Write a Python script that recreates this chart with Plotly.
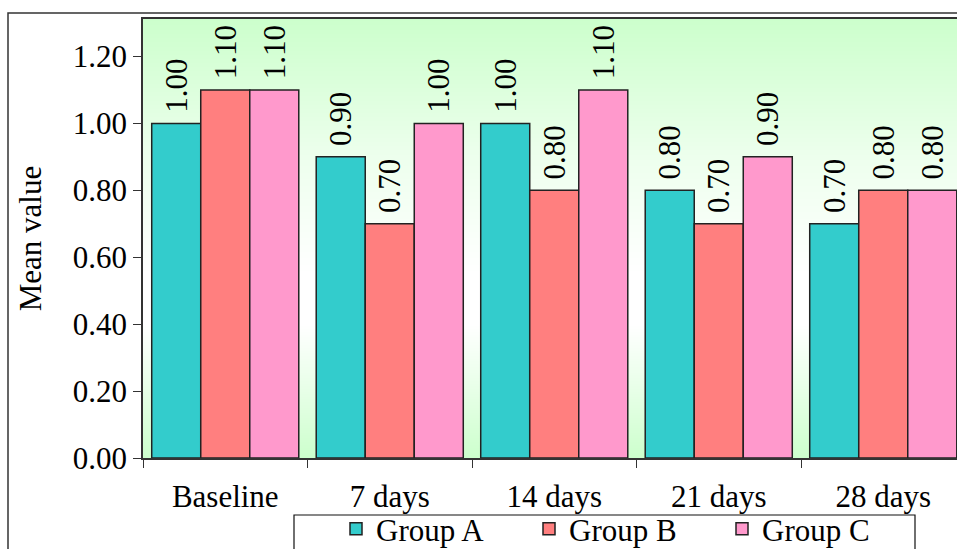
import numpy as np
import plotly.graph_objects as go

# Mean values per group at each time point
categories = ["Baseline", "7 days", "14 days", "21 days", "28 days"]
group_a = [1.00, 0.90, 1.00, 0.80, 0.70]
group_b = [1.10, 0.70, 0.80, 0.70, 0.80]
group_c = [1.10, 1.00, 1.10, 0.90, 0.80]
series_names = ["Group A", "Group B", "Group C"]
series_colors = ["#33CCCC", "#FF7F7F", "#FF99CC"]

FONT = "Liberation Serif"
FS = 31
W, H = 957, 549
ML, MR, MT, MB = 143, 0, 19, 91
plot_w = W - ML - MR
plot_h = H - MT - MB
cat_px = 164.5          # width of one category slot
y_top = 1.312

fig = go.Figure()

# Plot-area wash: green at top and bottom, fading to white in the middle
grad_y = np.linspace(0, y_top, 60)
grad_z = np.interp(grad_y, [0, 0.15, 0.4, 0.55, 0.9, y_top], [1, 0.6, 0, 0, 0.35, 1])
fig.add_trace(go.Heatmap(
    x=categories, y=grad_y,
    z=np.repeat(grad_z[:, None], len(categories), axis=1),
    colorscale=[[0, "#FFFFFF"], [1, "#CCFFCC"]], zmin=0, zmax=1,
    zsmooth="best", showscale=False, hoverinfo="skip",
))

for name, vals, col in zip(series_names, [group_a, group_b, group_c], series_colors):
    fig.add_trace(go.Bar(
        name=name, x=categories, y=vals,
        marker=dict(color=col, line=dict(color="#222222", width=1.5)),
        texttemplate="\u00a0%{y:.2f}", textposition="outside", textangle=-90,
        textfont=dict(family=FONT, size=FS, color="#000000"),
        constraintext="none", cliponaxis=False,
    ))

def px_x(p):
    return (p - ML) / plot_w

def px_y(p):
    return (H - MB - p) / plot_h

# Outer chart frame and legend frame
fig.add_shape(type="rect", xref="paper", yref="paper",
              x0=px_x(8), x1=px_x(975), y0=px_y(13), y1=px_y(570),
              line=dict(color="#333333", width=1.5), fillcolor="rgba(0,0,0,0)", layer="below")
fig.add_shape(type="rect", xref="paper", yref="paper",
              x0=px_x(294), x1=px_x(915), y0=px_y(515), y1=px_y(570),
              line=dict(color="#111111", width=1.2), fillcolor="rgba(0,0,0,0)")

fig.update_layout(
    width=W, height=H,
    margin=dict(l=ML, r=MR, t=MT, b=MB, autoexpand=False),
    paper_bgcolor="#FFFFFF", plot_bgcolor="#FFFFFF",
    barmode="group", bargap=0.106, bargroupgap=0,
    font=dict(family=FONT, size=FS, color="#000000"),
    showlegend=True,
    legend=dict(orientation="h", x=px_x(336), xanchor="left", y=px_y(502), yanchor="top",
                bgcolor="rgba(0,0,0,0)", borderwidth=0,
                font=dict(family=FONT, size=FS, color="#000000"),
                entrywidth=148, entrywidthmode="pixels", tracegroupgap=0),
    xaxis=dict(
        type="category", range=[-0.5, -0.5 + plot_w / cat_px],
        showline=True, linecolor="#333333", linewidth=1.5, mirror=True,
        ticks="outside", tickson="boundaries", ticklen=8, tickcolor="#333333",
        ticklabelstandoff=10,
        tickfont=dict(family=FONT, size=FS), showgrid=False, zeroline=False,
    ),
    yaxis=dict(
        range=[0, y_top], dtick=0.2, tickformat=".2f",
        showline=True, linecolor="#333333", linewidth=1.5,
        ticks="outside", ticklen=8, tickcolor="#333333",
        tickfont=dict(family=FONT, size=FS), showgrid=False, zeroline=False,
        title=dict(text="Mean value", font=dict(family=FONT, size=FS), standoff=22),
    ),
)

fig.write_html("out.html")
